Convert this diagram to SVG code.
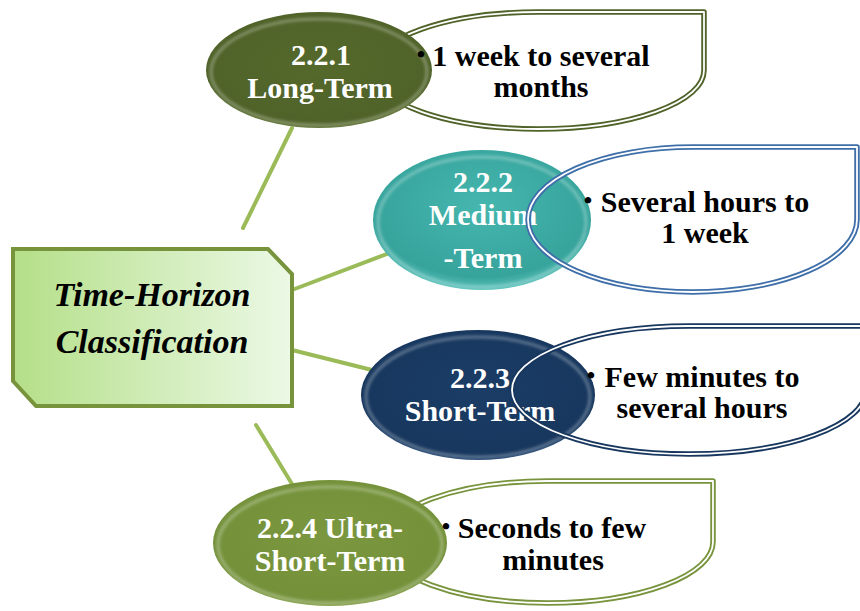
<svg xmlns="http://www.w3.org/2000/svg" width="860" height="611" viewBox="0 0 860 611">
  <defs>
    <linearGradient id="centerFill" x1="0" y1="0" x2="1" y2="0">
      <stop offset="0" stop-color="#b4df88"/>
      <stop offset="1" stop-color="#ecf9e6"/>
    </linearGradient>
    <radialGradient id="gLong" cx="0.5" cy="0.45" r="0.6">
      <stop offset="0" stop-color="#56692c"/>
      <stop offset="0.85" stop-color="#4f6228"/>
      <stop offset="1" stop-color="#6f8540"/>
    </radialGradient>
    <radialGradient id="gMed" cx="0.5" cy="0.4" r="0.6">
      <stop offset="0" stop-color="#45b6ae"/>
      <stop offset="0.85" stop-color="#37a49c"/>
      <stop offset="1" stop-color="#5cc2bb"/>
    </radialGradient>
    <radialGradient id="gShort" cx="0.5" cy="0.45" r="0.6">
      <stop offset="0" stop-color="#1b3d66"/>
      <stop offset="0.85" stop-color="#17375e"/>
      <stop offset="1" stop-color="#2d5585"/>
    </radialGradient>
    <radialGradient id="gUltra" cx="0.5" cy="0.45" r="0.6">
      <stop offset="0" stop-color="#7b9840"/>
      <stop offset="0.85" stop-color="#74913a"/>
      <stop offset="1" stop-color="#98b35e"/>
    </radialGradient>
    <filter id="soft" x="-10%" y="-10%" width="120%" height="120%">
      <feGaussianBlur stdDeviation="1.5"/>
    </filter>
  </defs>
  <style>
    .conn { stroke: #9bbb59; stroke-width: 4; fill: none; stroke-linecap: round; }
    .shine { fill: none; stroke: #ffffff; stroke-opacity: 0.3; stroke-width: 3; }
    .lbl { font-family: "Liberation Serif", "Times New Roman", serif; font-weight: bold; font-size: 30px; fill: #ffffff; text-anchor: middle; }
    .txt { font-family: "Liberation Serif", "Times New Roman", serif; font-weight: bold; font-size: 30px; fill: #000000; text-anchor: middle; }
    .bul { font-family: "Liberation Serif", "Times New Roman", serif; font-weight: bold; font-size: 24px; fill: #000000; text-anchor: middle; }
    .ttl { font-family: "Liberation Serif", "Times New Roman", serif; font-weight: bold; font-style: italic; font-size: 34px; fill: #000000; text-anchor: middle; }
    .box-fill { fill: #ffffff; stroke: none; }
    .outer { fill: none; stroke-width: 5.5; stroke-linejoin: round; }
    .inner { fill: none; stroke: #ffffff; stroke-width: 1.8; stroke-linejoin: round; }
  </style>

  <!-- connectors from the central box to each horizon -->
  <g id="connectors">
    <line class="conn" x1="243" y1="228" x2="292" y2="128"/>
    <line class="conn" x1="292" y1="290" x2="392" y2="252"/>
    <line class="conn" x1="292" y1="350" x2="372" y2="370"/>
    <line class="conn" x1="256" y1="425" x2="292" y2="484"/>
  </g>

  <!-- central box -->
  <g id="center">
    <path d="M13,249 L268,249 L292,274 L292,406 L36,406 L13,381 Z" fill="url(#centerFill)" stroke="#77933c" stroke-width="4" stroke-linejoin="miter"/>
    <text class="ttl" x="152" y="306">Time-Horizon</text>
    <text class="ttl" x="152" y="353">Classification</text>
  </g>

  <!-- 2.2.1 long-term: callout behind the ellipse -->
  <g id="long-term">
    <path class="box-fill" d="M373,70.5 A165.5,58.5 0 0 1 538.5,12 L704,12 L704,70.5 A165.5,58.5 0 0 1 538.5,129 A165.5,58.5 0 0 1 373,70.5 Z"/>
    <path class="outer" stroke="#4f6228" d="M373,70.5 A165.5,58.5 0 0 1 538.5,12 L704,12 L704,70.5 A165.5,58.5 0 0 1 538.5,129 A165.5,58.5 0 0 1 373,70.5 Z"/>
    <path class="inner" d="M373,70.5 A165.5,58.5 0 0 1 538.5,12 L704,12 L704,70.5 A165.5,58.5 0 0 1 538.5,129 A165.5,58.5 0 0 1 373,70.5 Z"/>
    <ellipse cx="319" cy="70" rx="113" ry="58" fill="url(#gLong)"/>
    <ellipse class="shine" cx="319" cy="72" rx="108" ry="53" filter="url(#soft)"/>
    <text class="lbl" x="321" y="65">2.2.1</text>
    <text class="lbl" x="320" y="98">Long-Term</text>
    <text class="bul" x="421" y="62">•</text>
    <text class="txt" x="541" y="66">1 week to several</text>
    <text class="txt" x="541" y="97">months</text>
  </g>

  <!-- 2.2.2 medium-term: callout outline over the ellipse -->
  <g id="medium-term">
    <path class="box-fill" d="M528,219.5 A164.5,72.5 0 0 1 692.5,147 L857,147 L857,219.5 A164.5,72.5 0 0 1 692.5,292 A164.5,72.5 0 0 1 528,219.5 Z"/>
    <ellipse cx="482" cy="220" rx="109" ry="70" fill="url(#gMed)"/>
    <ellipse class="shine" cx="482" cy="222" rx="104" ry="65" filter="url(#soft)"/>
    <text class="lbl" x="483" y="192">2.2.2</text>
    <text class="lbl" x="483" y="225">Medium</text>
    <text class="lbl" x="483" y="268">-Term</text>
    <path class="outer" stroke="#3f6fa8" d="M528,219.5 A164.5,72.5 0 0 1 692.5,147 L857,147 L857,219.5 A164.5,72.5 0 0 1 692.5,292 A164.5,72.5 0 0 1 528,219.5 Z"/>
    <path class="inner" d="M528,219.5 A164.5,72.5 0 0 1 692.5,147 L857,147 L857,219.5 A164.5,72.5 0 0 1 692.5,292 A164.5,72.5 0 0 1 528,219.5 Z"/>
    <text class="bul" x="588" y="208">•</text>
    <text class="txt" x="705" y="212">Several hours to</text>
    <text class="txt" x="705" y="243">1 week</text>
  </g>

  <!-- 2.2.3 short-term: callout outline over the ellipse -->
  <g id="short-term">
    <path class="box-fill" d="M512,390 A177,64 0 0 1 689,326 L866,326 L866,390 A177,64 0 0 1 689,454 A177,64 0 0 1 512,390 Z"/>
    <ellipse cx="478" cy="395" rx="117" ry="65" fill="url(#gShort)"/>
    <ellipse class="shine" cx="478" cy="397" rx="112" ry="60" filter="url(#soft)"/>
    <text class="lbl" x="480" y="388">2.2.3</text>
    <text class="lbl" x="480" y="421">Short-Term</text>
    <path class="outer" stroke="#17375e" d="M512,390 A177,64 0 0 1 689,326 L866,326 L866,390 A177,64 0 0 1 689,454 A177,64 0 0 1 512,390 Z"/>
    <path class="inner" d="M512,390 A177,64 0 0 1 689,326 L866,326 L866,390 A177,64 0 0 1 689,454 A177,64 0 0 1 512,390 Z"/>
    <text class="bul" x="591" y="383">•</text>
    <text class="txt" x="702" y="387">Few minutes to</text>
    <text class="txt" x="702" y="418">several hours</text>
  </g>

  <!-- 2.2.4 ultra-short-term: callout behind the ellipse -->
  <g id="ultra-short-term">
    <path class="box-fill" d="M383,542 A165,61 0 0 1 548,481 L713,481 L713,542 A165,61 0 0 1 548,603 A165,61 0 0 1 383,542 Z"/>
    <path class="outer" stroke="#77933c" d="M383,542 A165,61 0 0 1 548,481 L713,481 L713,542 A165,61 0 0 1 548,603 A165,61 0 0 1 383,542 Z"/>
    <path class="inner" d="M383,542 A165,61 0 0 1 548,481 L713,481 L713,542 A165,61 0 0 1 548,603 A165,61 0 0 1 383,542 Z"/>
    <ellipse cx="330" cy="543" rx="117" ry="63" fill="url(#gUltra)"/>
    <ellipse class="shine" cx="330" cy="545" rx="112" ry="58" filter="url(#soft)"/>
    <text class="lbl" x="330" y="538">2.2.4 Ultra-</text>
    <text class="lbl" x="330" y="571">Short-Term</text>
    <text class="bul" x="446" y="534">•</text>
    <text class="txt" x="552" y="538">Seconds to few</text>
    <text class="txt" x="553" y="570">minutes</text>
  </g>
</svg>
